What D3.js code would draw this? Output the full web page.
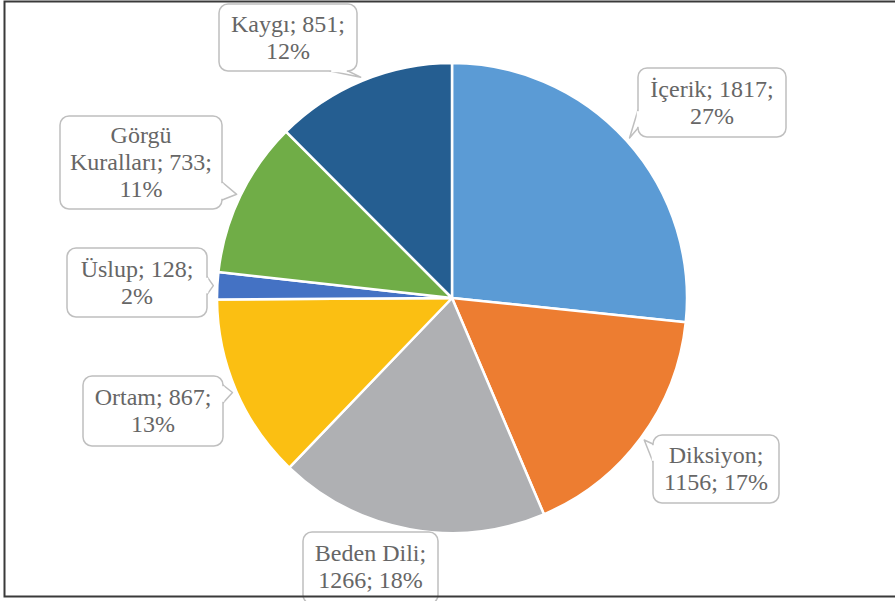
<!DOCTYPE html>
<html>
<head>
<meta charset="utf-8">
<script src="https://cdn.jsdelivr.net/npm/d3@7"></script>
<style>
  body { margin: 0; background: #fff; }
  svg { display: block; }
  .callout text { font-family: 'Liberation Serif', 'Times New Roman', Times, 'DejaVu Serif', serif; }
</style>
</head>
<body>
<div id="chart"></div>
<script>
// data
var categories = ['İçerik', 'Diksiyon', 'Beden Dili', 'Ortam', 'Üslup', 'Görgü Kuralları', 'Kaygı'];
var values = [1817, 1156, 1266, 867, 128, 733, 851];
var percentLabels = ['27%', '17%', '18%', '13%', '2%', '11%', '12%'];
var colors = ['#5B9BD5', '#ED7D31', '#AFB0B3', '#FBBF12', '#4472C4', '#70AD47', '#255E91'];

// callout boxes [x, y, w, h]
var boxes = [
  [638, 68, 148, 69],
  [653, 435, 126, 68],
  [303, 532, 135, 72],
  [83, 376, 140, 70],
  [67, 248, 140, 69],
  [60, 116, 162, 93],
  [219, 4, 138, 67]
];

var w = 895, h = 601;
var cx = 452, cy = 298, r = 235;

var svg = d3.select('#chart').append('svg')
  .attr('width', w)
  .attr('height', h);

var pie = d3.pie().sort(null).value(d => d);
var arcs = pie(values);
var arc = d3.arc().innerRadius(0).outerRadius(r);

var g = svg.append('g').attr('transform', 'translate(' + cx + ',' + cy + ')');

g.selectAll('path.slice')
  .data(arcs)
  .enter()
  .append('path')
  .attr('class', 'slice')
  .attr('d', arc)
  .style('fill', (d, i) => colors[i])
  .style('stroke', '#fff')
  .style('stroke-width', 2.5)
  .style('stroke-linejoin', 'round');

// callouts
var lineH = 27, fontSize = 24, rad = 9, baseW = 18;
var stroke = '#BFBFBF';

arcs.forEach(function(d, i) {
  var b = boxes[i];
  var bx = b[0], by = b[1], bw = b[2], bh = b[3];
  var mid = (d.startAngle + d.endAngle) / 2;
  var tip = [cx + Math.sin(mid) * (r + 4), cy - Math.cos(mid) * (r + 4)];

  var cg = svg.append('g').attr('class', 'callout');

  // which side the pointer leaves from
  var ex = { left: bx - tip[0], right: tip[0] - (bx + bw), top: by - tip[1], bottom: tip[1] - (by + bh) };
  var side = null, best = 0;
  Object.keys(ex).forEach(k => { if (ex[k] > best) { best = ex[k]; side = k } });

  var p1, p2;
  if (side) {
    if (side === 'left' || side === 'right') {
      var yc = Math.max(by + rad + baseW / 2, Math.min(by + bh - rad - baseW / 2, tip[1]));
      var sx = side === 'left' ? bx : bx + bw;
      p1 = [sx, yc - baseW / 2]; p2 = [sx, yc + baseW / 2];
    } else {
      var xc = Math.max(bx + rad + baseW / 2, Math.min(bx + bw - rad - baseW / 2, tip[0]));
      var sy = side === 'top' ? by : by + bh;
      p1 = [xc - baseW / 2, sy]; p2 = [xc + baseW / 2, sy];
    }
    cg.append('path')
      .attr('d', 'M' + p1 + 'L' + tip + 'L' + p2 + 'Z')
      .style('fill', '#fff')
      .style('stroke', stroke)
      .style('stroke-width', 1.5)
      .style('stroke-linejoin', 'round');
  }

  cg.append('rect')
    .attr('x', bx).attr('y', by)
    .attr('width', bw).attr('height', bh)
    .attr('rx', rad).attr('ry', rad)
    .style('fill', '#fff')
    .style('stroke', stroke)
    .style('stroke-width', 1.5);

  if (side) {
    // open the box edge where the pointer joins
    var dxs = p2[0] - p1[0], dys = p2[1] - p1[1];
    var len = Math.hypot(dxs, dys);
    var ux = dxs / len, uy = dys / len;
    cg.append('line')
      .attr('x1', p1[0] + ux * 1.2).attr('y1', p1[1] + uy * 1.2)
      .attr('x2', p2[0] - ux * 1.2).attr('y2', p2[1] - uy * 1.2)
      .style('stroke', '#fff')
      .style('stroke-width', 2.5);
  }

  // wrap label text to box width
  var words = (categories[i] + '; ' + values[i] + '; ' + percentLabels[i]).split(' ');
  var txt = cg.append('text')
    .attr('text-anchor', 'middle')
    .style('font-size', fontSize + 'px')
    .style('fill', '#666666');
  var maxW = bw - 20;
  var lines = [], cur = '';
  var probe = txt.append('tspan');
  words.forEach(function(wd) {
    var test = cur ? cur + ' ' + wd : wd;
    probe.text(test);
    if (probe.node().getComputedTextLength() > maxW && cur) {
      lines.push(cur);
      cur = wd;
    } else {
      cur = test;
    }
  });
  lines.push(cur);
  probe.remove();

  var boxH = Math.min(bh, 69 + (lines.length - 2) * 24);
  var y0 = by + boxH / 2 - (lines.length - 1) * lineH / 2 + fontSize * 0.33;
  lines.forEach(function(l, j) {
    txt.append('tspan')
      .attr('x', bx + bw / 2)
      .attr('y', y0 + j * lineH)
      .text(l);
  });
});

// outer frame (right edge runs off the picture)
svg.append('path')
  .attr('d', 'M' + (w + 5) + ',1.5H4.5V596.5H' + (w + 5))
  .style('fill', 'none')
  .style('stroke', '#3a3a3a')
  .style('stroke-width', 2);
</script>
</body>
</html>
